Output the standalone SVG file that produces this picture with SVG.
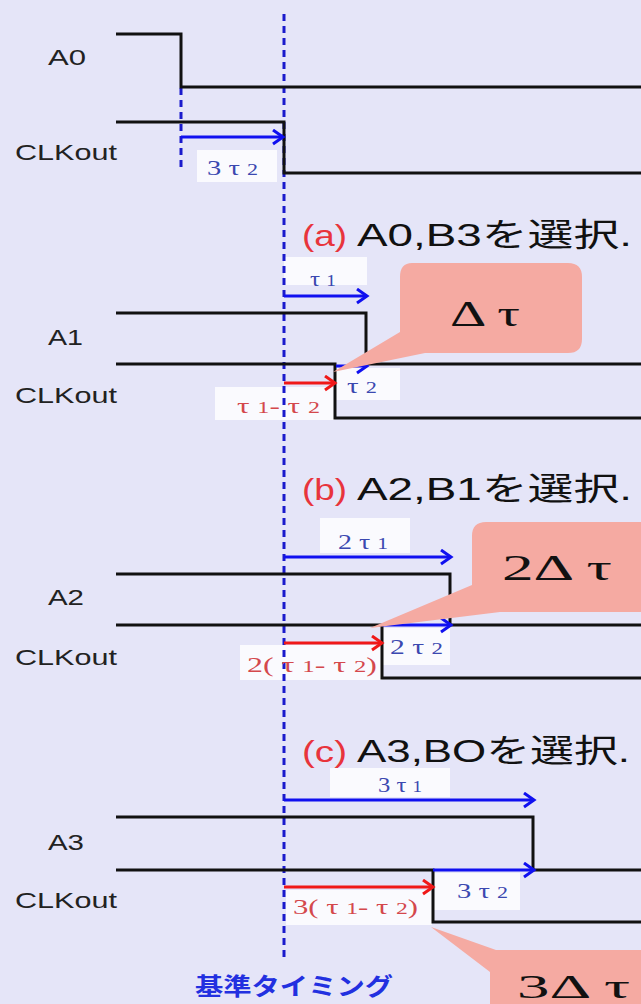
<svg xmlns="http://www.w3.org/2000/svg" width="641" height="1004" viewBox="0 0 641 1004">
<defs>
<style>
.wave{fill:none;stroke:#111;stroke-width:3}
.ba{fill:none;stroke:#1010f0;stroke-width:3;marker-end:url(#ab)}
.ra{fill:none;stroke:#f01818;stroke-width:3;marker-end:url(#ar)}
.dash{fill:none;stroke:#1a1acc;stroke-width:3;stroke-dasharray:7 5}
.lbl{font-family:"Liberation Sans","Noto Sans",sans-serif;font-size:22px;fill:#222}
.ttl{font-family:"Liberation Sans","Noto Sans CJK JP",sans-serif;font-size:32px;fill:#111}
.ttr{font-family:"Liberation Sans",sans-serif;font-size:30px;fill:#e8343c}
.tb{font-family:"Liberation Serif",serif;font-size:22px;fill:#3b48b0}
.tr{font-family:"Liberation Serif",serif;font-size:22px;fill:#d4484c}
.sub{font-size:17px}
.box{fill:#ffffff;fill-opacity:0.8}
.call{fill:#f5aaa2}
.ct{font-family:"Liberation Serif","DejaVu Serif",serif;font-size:36px;fill:#111}
</style>
<marker id="ab" markerUnits="userSpaceOnUse" markerWidth="14" markerHeight="18" refX="11" refY="8" orient="auto">
<path d="M1,1 L11,8 L1,15" fill="none" stroke="#1010f0" stroke-width="3"/>
</marker>
<marker id="ar" markerUnits="userSpaceOnUse" markerWidth="14" markerHeight="18" refX="11" refY="8" orient="auto">
<path d="M1,1 L11,8 L1,15" fill="none" stroke="#f01818" stroke-width="3"/>
</marker>
</defs>
<rect width="641" height="1004" fill="#e5e5f8"/>

<g id="labelBoxes">
<rect class="box" x="197" y="150" width="80" height="32"/>
<rect class="box" x="284" y="257" width="83" height="28"/>
<rect class="box" x="336" y="368" width="64" height="32"/>
<rect class="box" x="215" y="387" width="120" height="33"/>
<rect class="box" x="320" y="518" width="90" height="35"/>
<rect class="box" x="383" y="628" width="67" height="37"/>
<rect class="box" x="240" y="645" width="142" height="35"/>
<rect class="box" x="330" y="768" width="120" height="29"/>
<rect class="box" x="434" y="873" width="86" height="37"/>
<rect class="box" x="286" y="890" width="146" height="35"/>
</g>

<g id="signalLabels">
<text class="lbl" x="48" y="65" textLength="38" lengthAdjust="spacingAndGlyphs">A0</text>
<text class="lbl" x="15" y="160" textLength="102" lengthAdjust="spacingAndGlyphs">CLKout</text>
<text class="lbl" x="48" y="345" textLength="35" lengthAdjust="spacingAndGlyphs">A1</text>
<text class="lbl" x="15" y="403" textLength="102" lengthAdjust="spacingAndGlyphs">CLKout</text>
<text class="lbl" x="48" y="605" textLength="36" lengthAdjust="spacingAndGlyphs">A2</text>
<text class="lbl" x="15" y="665" textLength="102" lengthAdjust="spacingAndGlyphs">CLKout</text>
<text class="lbl" x="48" y="850" textLength="36" lengthAdjust="spacingAndGlyphs">A3</text>
<text class="lbl" x="15" y="908" textLength="102" lengthAdjust="spacingAndGlyphs">CLKout</text>
</g>

<g id="titles">
<text class="ttr" x="302" y="246" textLength="45" lengthAdjust="spacingAndGlyphs">(a)</text>
<text class="ttl" x="357" y="246" textLength="275" lengthAdjust="spacingAndGlyphs">A0,B3を選択.</text>
<text class="ttr" x="302" y="500" textLength="45" lengthAdjust="spacingAndGlyphs">(b)</text>
<text class="ttl" x="357" y="500" textLength="275" lengthAdjust="spacingAndGlyphs">A2,B1を選択.</text>
<text class="ttr" x="302" y="762" textLength="45" lengthAdjust="spacingAndGlyphs">(c)</text>
<text class="ttl" x="357" y="762" textLength="273" lengthAdjust="spacingAndGlyphs">A3,BOを選択.</text>
</g>

<g id="connectors">
<path class="dash" d="M284,14 V958"/>
<path class="dash" d="M181,88 V172"/>
<path class="wave" d="M116,34 H181 V87 H641"/>
<path class="wave" d="M116,122 H284 V173 H641"/>
<path class="ba" d="M181,137 H283"/>

<path class="wave" d="M116,313 H366 V364 H641"/>
<path class="wave" d="M116,364 H335 V418 H641"/>
<path class="ba" d="M284,296 H367"/>
<path class="ra" d="M284,383 H335"/>
<path class="ba" d="M336,366 H367"/>

<path class="wave" d="M116,574 H450 V625 H641"/>
<path class="wave" d="M116,625 H382 V678 H641"/>
<path class="ba" d="M284,557 H451"/>
<path class="ra" d="M284,643 H382"/>
<path class="ba" d="M382,625 H451"/>

<path class="wave" d="M116,817 H533 V870 H641"/>
<path class="wave" d="M116,870 H433 V922 H641"/>
<path class="ba" d="M284,800 H534"/>
<path class="ra" d="M284,887 H433"/>
<path class="ba" d="M433,870 H534"/>
</g>

<g id="delayLabels">
<text class="tb" x="207" y="175" textLength="51" lengthAdjust="spacingAndGlyphs">3 τ <tspan class="sub">2</tspan></text>
<text class="tb" x="310" y="286" textLength="26" lengthAdjust="spacingAndGlyphs">τ <tspan class="sub">1</tspan></text>
<text class="tb" x="347" y="393" textLength="30" lengthAdjust="spacingAndGlyphs">τ <tspan class="sub">2</tspan></text>
<text class="tr" x="237" y="413" textLength="83" lengthAdjust="spacingAndGlyphs">τ <tspan class="sub">1</tspan>- τ <tspan class="sub">2</tspan></text>
<text class="tb" x="338" y="549" textLength="50" lengthAdjust="spacingAndGlyphs">2 τ <tspan class="sub">1</tspan></text>
<text class="tb" x="390" y="654" textLength="53" lengthAdjust="spacingAndGlyphs">2 τ <tspan class="sub">2</tspan></text>
<text class="tr" x="247" y="672" textLength="130" lengthAdjust="spacingAndGlyphs">2( τ <tspan class="sub">1</tspan>- τ <tspan class="sub">2</tspan>)</text>
<text class="tb" x="378" y="792" textLength="44" lengthAdjust="spacingAndGlyphs">3 τ <tspan class="sub">1</tspan></text>
<text class="tb" x="457" y="898" textLength="51" lengthAdjust="spacingAndGlyphs">3 τ <tspan class="sub">2</tspan></text>
<text class="tr" x="293" y="914" textLength="125" lengthAdjust="spacingAndGlyphs">3( τ <tspan class="sub">1</tspan>- τ <tspan class="sub">2</tspan>)</text>
</g>

<g id="callout1">
<path class="call" d="M412,263 H568 Q582,263 582,277 V339 Q582,353 568,353 H425 L333,372 L400,332 V277 Q400,263 412,263 Z"/>
<text class="ct" x="450" y="326" textLength="70" lengthAdjust="spacingAndGlyphs">Δ τ</text>
</g>
<g id="callout2">
<path class="call" d="M486,522 H660 V612 H500 L370,628 L472,585 V536 Q472,522 486,522 Z"/>
<text class="ct" x="502" y="580" textLength="110" lengthAdjust="spacingAndGlyphs">2Δ τ</text>
</g>
<g id="callout3">
<path class="call" d="M504,950 H660 V1010 H490 V972 L431,927 L496,950 Z"/>
<text class="ct" x="517" y="998" textLength="113" lengthAdjust="spacingAndGlyphs" style="font-size:33px">3Δ τ</text>
</g>

<g id="reference">
<text x="195" y="995" textLength="198" lengthAdjust="spacingAndGlyphs" style="font-family:'Noto Sans CJK JP',sans-serif;font-size:24px;font-weight:bold;fill:#2230e0">基準タイミング</text>
</g>
</svg>
